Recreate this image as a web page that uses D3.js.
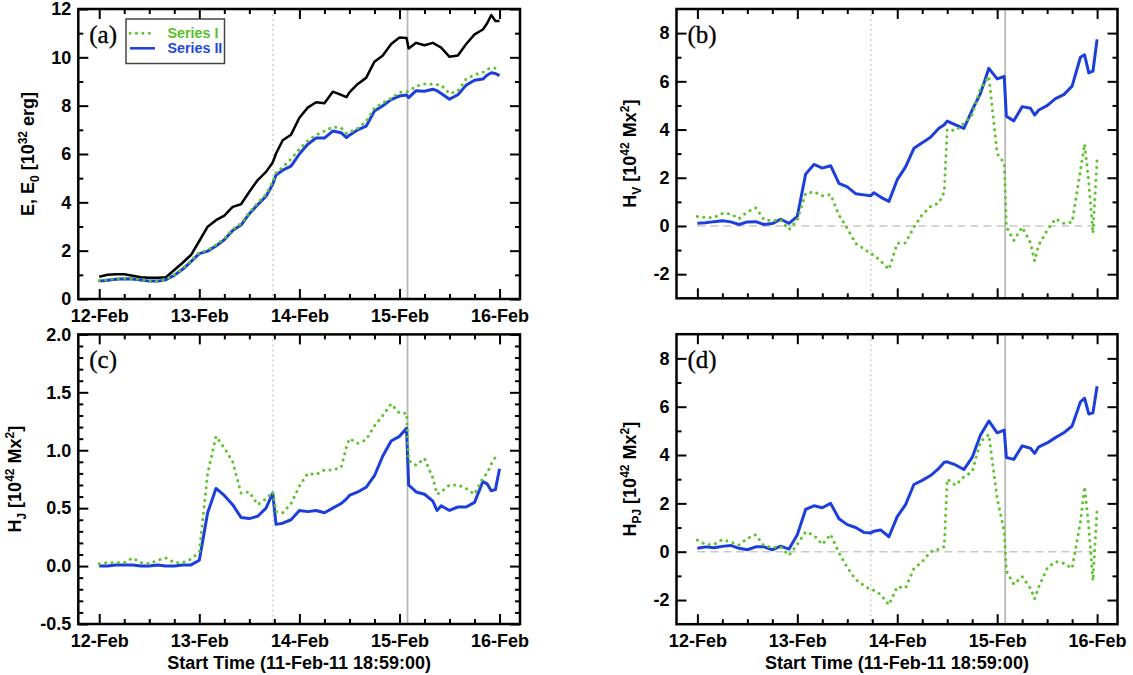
<!DOCTYPE html>
<html><head><meta charset="utf-8">
<script src="https://cdn.jsdelivr.net/npm/d3@7"></script>
<style>body{margin:0;background:#fff}</style>
</head><body>
<svg id="chart" width="1133" height="675"></svg>
<script>
// ---------------- DATA ----------------
// hours since 12-Feb-2011 00:00 UT
const hours = [0,2,4,6,8,10,12,14,16,18,20,22,24,26,28,30,32,34,36,38,40,41.6,42.4,44,46,48,50,52,54,56,58,59.3,60,62,64,66,68,70,72,73.7,74.2,76,78,80,81,82,84,86,88,90,92,93,94,95,96];

const dayTicks = [0,24,48,72,96];
const dayLabels = ["12-Feb","13-Feb","14-Feb","15-Feb","16-Feb"];
const xStartLabel = "Start Time (11-Feb-11 18:59:00)";
const xDomainHours = [-5.0167, 100.9];
const flareDotted = 41.65;   // dotted grey marker
const flareSolid = 73.93;    // solid grey marker

// (a) energies [1e32 erg]
const energyE   = [0.92,1.0,1.02,1.02,0.96,0.9,0.88,0.88,0.9,1.2,1.5,1.82,2.4,2.99,3.26,3.45,3.81,3.92,4.44,4.92,5.26,5.65,6.02,6.57,6.8,7.5,7.92,8.14,8.1,8.58,8.45,8.35,8.55,8.9,9.15,9.82,10.08,10.55,10.82,10.8,10.37,10.6,10.5,10.6,10.5,10.4,10.02,10.08,10.55,10.95,11.15,11.4,11.75,11.5,11.5];
const energyI   = [0.76,0.8,0.84,0.85,0.84,0.8,0.75,0.75,0.81,1.0,1.26,1.58,1.92,2.02,2.24,2.5,2.88,3.12,3.58,3.98,4.33,4.85,5.22,5.45,5.8,6.2,6.55,6.78,6.95,7.12,7.08,6.85,6.9,7.06,7.35,7.9,8.12,8.3,8.55,8.58,8.6,8.8,8.9,8.88,8.87,8.86,8.5,8.6,9.1,9.28,9.38,9.5,9.56,9.55,9.42];
const energyII  = [0.74,0.78,0.82,0.84,0.83,0.79,0.74,0.74,0.8,0.98,1.23,1.55,1.88,1.98,2.19,2.45,2.83,3.06,3.53,3.9,4.25,4.75,5.13,5.33,5.5,6.0,6.4,6.66,6.66,6.95,6.88,6.68,6.78,7.0,7.15,7.78,8.0,8.25,8.4,8.44,8.33,8.62,8.6,8.68,8.62,8.5,8.27,8.45,8.85,9.05,9.1,9.26,9.36,9.33,9.24];

// (b) H_V [1e42 Mx^2]
const hvI  = [0.39,0.35,0.35,0.52,0.5,0.3,0.58,0.75,0.26,0.22,0.25,-0.15,0.25,1.35,1.42,1.25,1.3,0.45,-0.1,-0.72,-0.95,-1.15,-1.2,-1.45,-1.8,-0.72,-0.7,-0.05,0.47,0.8,0.95,1.42,4.0,3.95,4.26,4.62,5.71,6.2,3.0,2.6,-0.03,-0.6,-0.05,-0.7,-1.45,-0.79,-0.18,0.3,0.11,0.15,2.3,3.4,1.8,-0.3,2.75];
const hvII = [0.11,0.13,0.18,0.22,0.17,0.06,0.17,0.18,0.06,0.1,0.28,0.11,0.4,2.15,2.55,2.4,2.5,1.77,1.62,1.34,1.29,1.25,1.38,1.2,1.02,1.92,2.45,3.22,3.45,3.68,4.05,4.2,4.35,4.19,4.05,4.81,5.5,6.54,6.1,6.2,4.55,4.36,4.95,4.88,4.6,4.81,4.99,5.28,5.45,5.8,7.0,7.1,6.35,6.42,7.74];

// (c) H_J [1e42 Mx^2]
const hjI  = [0.02,0.03,0.03,0.03,0.07,0.03,0.02,0.05,0.07,0.03,0.03,0.06,0.12,0.8,1.12,1.02,0.9,0.63,0.64,0.53,0.58,0.64,0.47,0.46,0.54,0.69,0.8,0.79,0.83,0.83,0.85,1.03,1.1,1.06,1.09,1.21,1.3,1.4,1.32,1.32,0.91,0.87,0.93,0.76,0.62,0.64,0.7,0.7,0.67,0.62,0.76,0.8,0.88,0.94,0.93];
const hjII = [0.0,0.0,0.01,0.01,0.01,0.0,0.0,0.01,0.0,0.0,0.01,0.01,0.05,0.46,0.67,0.61,0.53,0.42,0.41,0.43,0.5,0.63,0.36,0.37,0.4,0.48,0.47,0.48,0.46,0.5,0.54,0.58,0.61,0.64,0.68,0.78,0.95,1.08,1.12,1.19,0.7,0.64,0.62,0.56,0.48,0.52,0.48,0.51,0.51,0.55,0.73,0.71,0.65,0.66,0.84];

// (d) H_PJ [1e42 Mx^2]
const hpjI  = [0.48,0.3,0.3,0.5,0.4,0.28,0.55,0.7,0.24,0.18,0.2,-0.15,0.3,0.82,0.68,0.3,0.72,-0.05,-0.65,-1.15,-1.4,-1.57,-1.6,-1.77,-2.2,-1.45,-1.5,-0.7,-0.42,0.0,0.1,0.21,3.0,2.75,3.1,3.31,4.55,4.85,2.2,0.85,-0.8,-1.35,-1.03,-1.52,-1.95,-1.45,-0.69,-0.41,-0.48,-0.69,1.24,2.69,1.0,-1.2,1.75];
const hpjII = [0.14,0.2,0.16,0.22,0.26,0.14,0.08,0.2,0.2,0.08,0.23,0.11,0.7,1.75,1.9,1.82,2.0,1.36,1.12,1.0,0.8,0.77,0.85,0.9,0.62,1.45,1.95,2.78,2.95,3.15,3.45,3.7,3.72,3.59,3.4,3.9,4.83,5.41,4.92,5.03,3.9,3.82,4.38,4.28,4.07,4.34,4.5,4.72,4.92,5.2,6.2,6.35,5.7,5.75,6.85];

const legendLabels = ["Series I","Series II"];

// ---------------- LAYOUT / STYLE ----------------
const C_BLUE = "#1c3fdb", C_GREEN = "#5dc42c", C_BLACK = "#000";
const FONT = "'Liberation Sans', Arial, Helvetica, sans-serif";
const SERIF = "'Liberation Serif', 'DejaVu Serif', serif";

const svg = d3.select("#chart");

const panels = [
  {tag:"(a)", x0:78.3, x1:520, y0:9, y1:299, yDomain:[0,12],
   yMajor:[0,2,4,6,8,10,12], yLabels:["0","2","4","6","8","10","12"], yMinor:[1,3,5,7,9,11],
   showX:true, xTitle:false, zero:false, titleX:34,
   title:[["E, E",0],["0",1],[" [10",0],["32",2],[" erg]",0]],
   lines:[{v:energyE,c:C_BLACK,w:2.5,dot:false},{v:energyII,c:C_BLUE,w:3,dot:false},{v:energyI,c:C_GREEN,w:3,dot:true}],
   legend:true},
  {tag:"(b)", x0:676.5, x1:1117.5, y0:9, y1:298.3, yDomain:[-3,9],
   yMajor:[-2,0,2,4,6,8], yLabels:["-2","0","2","4","6","8"], yMinor:[-1,1,3,5,7],
   showX:false, xTitle:false, zero:true, titleX:636,
   title:[["H",0],["V",1],[" [10",0],["42",2],[" Mx",0],["2",2],["]",0]],
   lines:[{v:hvII,c:C_BLUE,w:3,dot:false},{v:hvI,c:C_GREEN,w:3,dot:true}]},
  {tag:"(c)", x0:78.3, x1:520, y0:334.4, y1:624, yDomain:[-0.5,2],
   yMajor:[-0.5,0,0.5,1,1.5,2], yLabels:["-0.5","0.0","0.5","1.0","1.5","2.0"],
   yMinor:d3.range(-0.4,2.0,0.1).filter(v=>Math.abs(v*2-Math.round(v*2))>0.01),
   showX:true, xTitle:true, zero:false, titleX:21,
   title:[["H",0],["J",1],[" [10",0],["42",2],[" Mx",0],["2",2],["]",0]],
   lines:[{v:hjII,c:C_BLUE,w:3,dot:false},{v:hjI,c:C_GREEN,w:3,dot:true}]},
  {tag:"(d)", x0:676.5, x1:1117.5, y0:334.2, y1:624.2, yDomain:[-3,9],
   yMajor:[-2,0,2,4,6,8], yLabels:["-2","0","2","4","6","8"], yMinor:[-1,1,3,5,7],
   showX:true, xTitle:true, zero:true, titleX:636,
   title:[["H",0],["PJ",1],[" [10",0],["42",2],[" Mx",0],["2",2],["]",0]],
   lines:[{v:hpjII,c:C_BLUE,w:3,dot:false},{v:hpjI,c:C_GREEN,w:3,dot:true}]}
];

const minorX = d3.range(6,96,6).filter(h=>h%24!==0);

function styleAxis(g){
  g.select(".domain").remove();
  g.selectAll(".tick line").attr("stroke","#000").attr("stroke-width",2);
  g.attr("font-family",FONT).attr("font-size",18).attr("font-weight","bold");
  g.selectAll(".tick text").attr("fill","#000");
}

panels.forEach(p=>{
  const g = svg.append("g");
  const x = d3.scaleLinear().domain(xDomainHours).range([p.x0,p.x1]);
  const y = d3.scaleLinear().domain(p.yDomain).range([p.y1,p.y0]);

  // flare markers
  g.append("line").attr("x1",x(flareDotted)).attr("x2",x(flareDotted)).attr("y1",p.y0).attr("y2",p.y1)
    .attr("stroke","#c4c4c4").attr("stroke-width",1.2).attr("stroke-dasharray","2,3");
  g.append("line").attr("x1",x(flareSolid)).attr("x2",x(flareSolid)).attr("y1",p.y0).attr("y2",p.y1)
    .attr("stroke","#b8b8b8").attr("stroke-width",1.8);

  if(p.zero){
    g.append("line").attr("x1",x(hours[0])).attr("x2",x(hours[hours.length-1])).attr("y1",y(0)).attr("y2",y(0))
      .attr("stroke","#c8c8c8").attr("stroke-width",1.5).attr("stroke-dasharray","8,5");
  }

  const line = d3.line().x((d,i)=>x(hours[i])).y(d=>y(d));
  p.lines.forEach(s=>{
    const path = g.append("path").datum(s.v).attr("d",line).attr("fill","none")
      .attr("stroke",s.c).attr("stroke-width",s.w).attr("stroke-linejoin","round");
    if(s.dot){ path.attr("stroke-dasharray","0.1,6.3").attr("stroke-linecap","round"); }
  });

  // frame
  g.append("rect").attr("x",p.x0).attr("y",p.y0).attr("width",p.x1-p.x0).attr("height",p.y1-p.y0)
    .attr("fill","none").attr("stroke","#000").attr("stroke-width",2.5);

  // x axes (bottom & top, major & minor, inward ticks)
  const bx = g.append("g").attr("transform",`translate(0,${p.y1})`)
    .call(d3.axisBottom(x).tickValues(dayTicks).tickSize(-10).tickPadding(10.5)
      .tickFormat((d,i)=>p.showX?dayLabels[i]:""));
  styleAxis(bx);
  styleAxis(g.append("g").attr("transform",`translate(0,${p.y1})`)
    .call(d3.axisBottom(x).tickValues(minorX).tickSize(-5).tickFormat("")));
  styleAxis(g.append("g").attr("transform",`translate(0,${p.y0})`)
    .call(d3.axisTop(x).tickValues(dayTicks).tickSize(-10).tickFormat("")));
  styleAxis(g.append("g").attr("transform",`translate(0,${p.y0})`)
    .call(d3.axisTop(x).tickValues(minorX).tickSize(-5).tickFormat("")));

  // y axes (left & right)
  const ly = g.append("g").attr("transform",`translate(${p.x0},0)`)
    .call(d3.axisLeft(y).tickValues(p.yMajor).tickSize(-10).tickPadding(7)
      .tickFormat((d,i)=>p.yLabels[i]));
  styleAxis(ly);
  styleAxis(g.append("g").attr("transform",`translate(${p.x0},0)`)
    .call(d3.axisLeft(y).tickValues(p.yMinor).tickSize(-5).tickFormat("")));
  styleAxis(g.append("g").attr("transform",`translate(${p.x1},0)`)
    .call(d3.axisRight(y).tickValues(p.yMajor).tickSize(-10).tickFormat("")));
  styleAxis(g.append("g").attr("transform",`translate(${p.x1},0)`)
    .call(d3.axisRight(y).tickValues(p.yMinor).tickSize(-5).tickFormat("")));

  // y title with sub/superscripts
  const cy = (p.y0+p.y1)/2;
  const t = g.append("text").attr("transform",`translate(${p.titleX},${cy}) rotate(-90)`)
    .attr("text-anchor","middle").attr("font-family",FONT).attr("font-weight","bold")
    .attr("font-size",18).attr("fill","#000").attr("dy","0.36em");
  let shift = 0;
  p.title.forEach(([txt,kind])=>{
    const target = kind===1?5:(kind===2?-7:0);
    t.append("tspan").attr("dy",target-shift).attr("font-size",kind?12:18).text(txt);
    shift = target;
  });

  // x title
  if(p.xTitle){
    g.append("text").attr("x",(p.x0+p.x1)/2).attr("y",668.5).attr("text-anchor","middle")
      .attr("font-family",FONT).attr("font-weight","bold").attr("font-size",18).text(xStartLabel);
  }

  // panel tag
  g.append("text").attr("x",p.x0+11).attr("y",p.y0+34).attr("font-family",SERIF)
    .attr("font-size",25).attr("fill","#000").attr("stroke","#000").attr("stroke-width",0.3).text(p.tag);

  // legend
  if(p.legend){
    const lg = g.append("g");
    lg.append("rect").attr("x",126).attr("y",19).attr("width",98.5).attr("height",44.5)
      .attr("fill","#fff").attr("stroke","#444").attr("stroke-width",1.5);
    const items = [{c:C_GREEN,dot:true,label:legendLabels[0],y:33.3,tc:"#55c227"},
                   {c:C_BLUE,dot:false,label:legendLabels[1],y:48.3,tc:"#2347de"}];
    items.forEach(it=>{
      const l = lg.append("line").attr("x1",130).attr("x2",155).attr("y1",it.y).attr("y2",it.y)
        .attr("stroke",it.c).attr("stroke-width",it.dot?3:2.5);
      if(it.dot) l.attr("stroke-dasharray","0.1,6.3").attr("stroke-linecap","round");
      lg.append("text").attr("x",167.5).attr("y",it.y).attr("dy","0.36em")
        .attr("font-family",FONT).attr("font-weight","bold").attr("font-size",14.3)
        .attr("fill",it.tc).text(it.label);
    });
  }
});
</script>
</body></html>
